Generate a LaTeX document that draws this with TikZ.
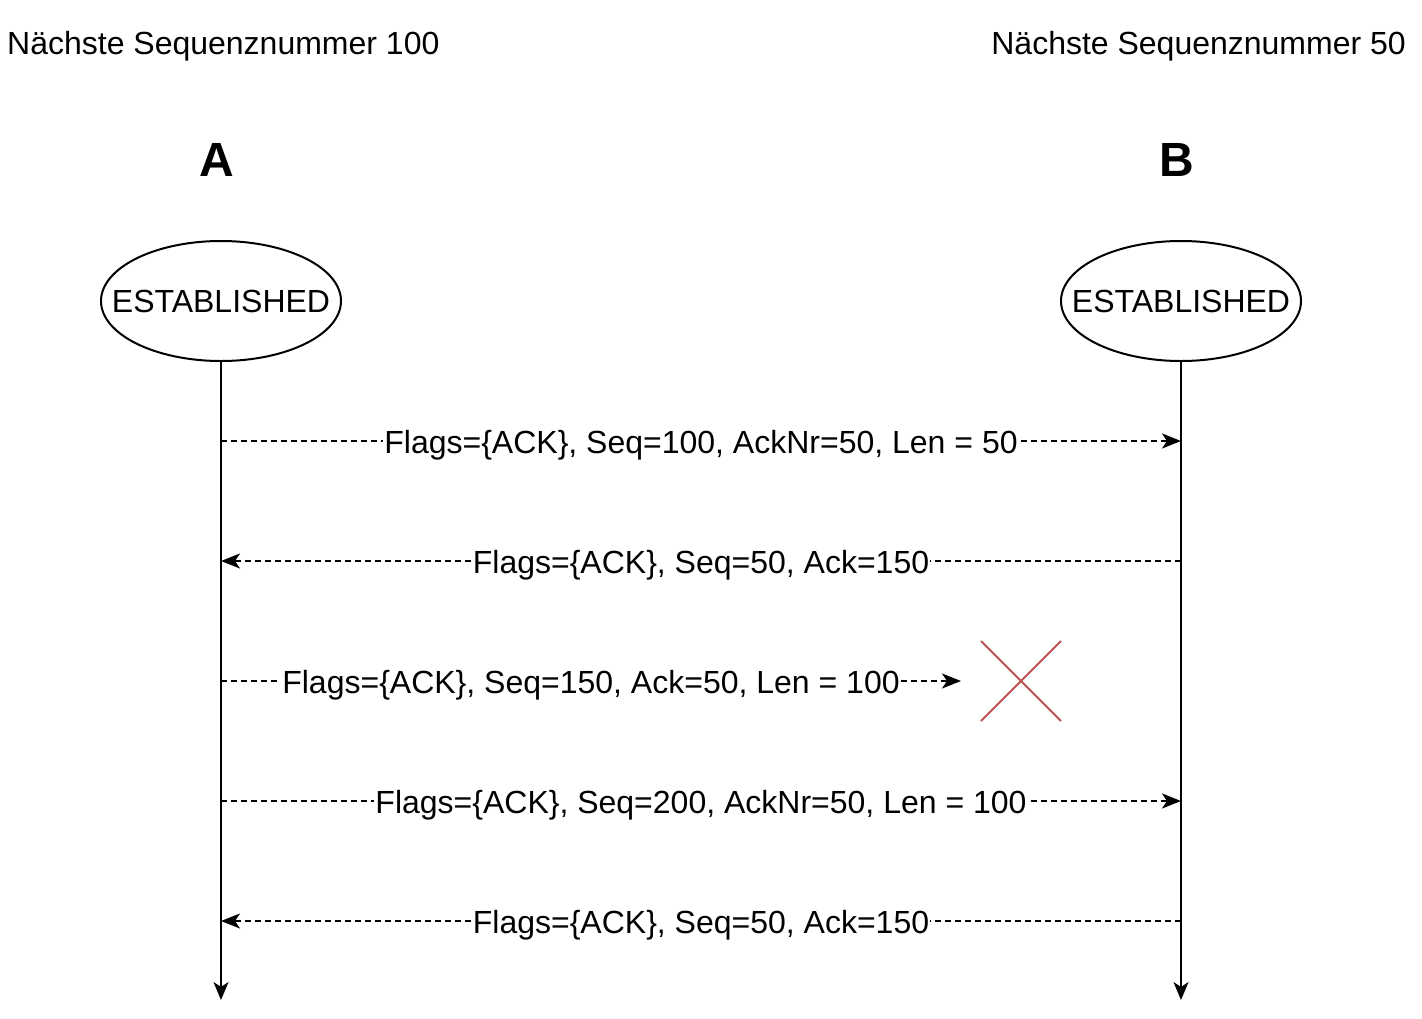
\documentclass[tikz,border=0pt]{standalone}
\usepackage{fontspec}
\setmainfont{Liberation Sans}
\usetikzlibrary{arrows.meta,shapes.geometric}

\definecolor{lostred}{HTML}{B85450}

\begin{document}
\begin{tikzpicture}[x=1pt, y=-1pt,
    every node/.style={font=\fontsize{32}{38}\selectfont},
    state/.style={ellipse, draw, line width=2pt, minimum width=240pt, minimum height=120pt, inner xsep=-30pt, inner ysep=0pt},
    lifeline/.style={line width=2pt, -{Stealth[length=18pt, width=15pt, inset=5pt]}},
    msg/.style={line width=2pt, dash pattern=on 6pt off 4pt, -{Stealth[length=19pt, width=15pt, inset=5pt]}},
    msglabel/.style={fill=white, inner sep=1pt, yshift=-4pt},
    peer/.style={font=\fontsize{48}{56}\selectfont\bfseries, inner sep=0pt, anchor=base}]
  \useasboundingbox (0,0) rectangle (1422,1018);

  % headers
  \node[anchor=base west, inner sep=0pt] (nextA) at (7,54) {Nächste Sequenznummer 100};
  \node[anchor=base east, inner sep=0pt] (nextB) at (1406,54) {Nächste Sequenznummer 50};
  \node[peer] (peerA) at (217,176) {A};
  \node[peer] (peerB) at (1177,176) {B};

  % states
  \node[state] (estA) at (221,301) {ESTABLISHED};
  \node[state] (estB) at (1181,301) {ESTABLISHED};

  % lifelines
  \coordinate (endA) at (221,1000);
  \coordinate (endB) at (1181,1000);
  \draw[lifeline] (estA.south) -- (endA);
  \draw[lifeline] (estB.south) -- (endB);

  % message points
  \coordinate (a1) at (221,441);  \coordinate (b1) at (1181,441);
  \coordinate (a2) at (221,561);  \coordinate (b2) at (1181,561);
  \coordinate (a3) at (221,681);  \coordinate (lost) at (961,681);
  \coordinate (a4) at (221,801);  \coordinate (b4) at (1181,801);
  \coordinate (a5) at (221,921);  \coordinate (b5) at (1181,921);

  \draw[msg] (a1) -- node[msglabel] {Flags=\{ACK\}, Seq=100, AckNr=50, Len = 50} (b1);
  \draw[msg] (b2) -- node[msglabel] {Flags=\{ACK\}, Seq=50, Ack=150} (a2);
  \draw[msg] (a3) -- node[msglabel] {Flags=\{ACK\}, Seq=150, Ack=50, Len = 100} (lost);
  \draw[msg] (a4) -- node[msglabel] {Flags=\{ACK\}, Seq=200, AckNr=50, Len = 100} (b4);
  \draw[msg] (b5) -- node[msglabel] {Flags=\{ACK\}, Seq=50, Ack=150} (a5);

  % packet lost
  \draw[lostred, line width=2pt] (981,641) -- (1061,721);
  \draw[lostred, line width=2pt] (981,721) -- (1061,641);
\end{tikzpicture}
\end{document}
